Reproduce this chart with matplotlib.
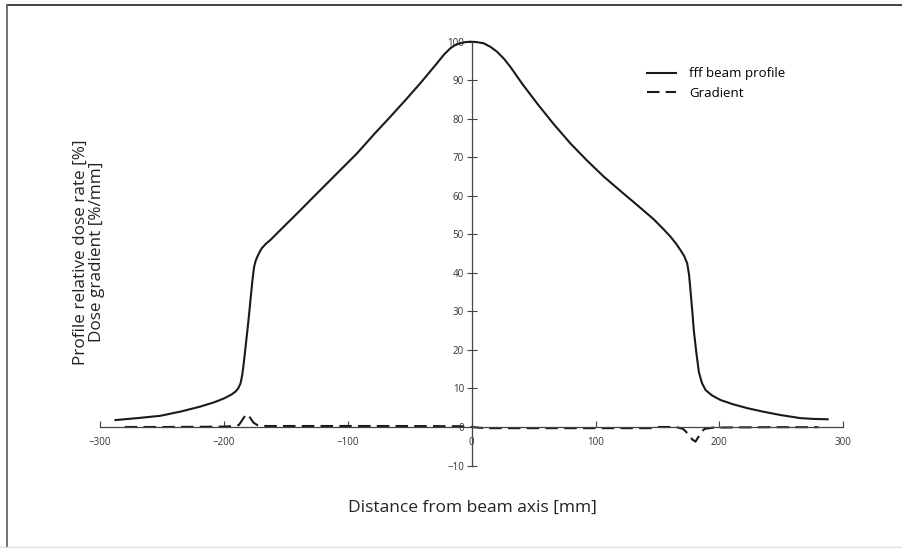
import numpy as np
import matplotlib.pyplot as plt
from matplotlib.lines import Line2D

plt.rcParams['font.family'] = ['Open Sans', 'DejaVu Sans']

# beam profile [%] vs distance [mm]
profile_x = [-287.5, -270, -251.5, -235, -219, -208, -200, -194, -190.6, -188.5, -186.6,
             -185.2, -184, -182.5, -181, -179.6, -178.3, -177, -175.6, -174.3, -173,
             -171.2, -169.4, -166, -162.6, -154.5, -141, -127.4, -110, -92.6, -79,
             -65.7, -53, -41.5, -34.5, -28, -22.5, -17.2, -13, -9.2, -5, -1,
             4, 9.6, 15, 20.5, 26, 31.2, 41, 52.8, 66, 79.7, 93, 106.6, 120,
             133.6, 147, 155, 160.5, 165, 168.6, 171.5, 174, 175.5, 176.6, 178,
             179.3, 181.3, 183.4, 185.8, 188.8, 194, 200.9, 211, 222.4, 235,
             249.4, 265.5, 276, 287.4]
profile_y = [1.8, 2.3, 2.9, 4.0, 5.3, 6.4, 7.4, 8.4, 9.2, 10.0, 11.3,
             13.5, 16.5, 20.8, 25.2, 29.5, 33.8, 38.0, 41.6, 43.2, 44.2,
             45.4, 46.4, 47.6, 48.5, 51.1, 55.4, 59.8, 65.4, 71.0, 75.9,
             80.5, 85.0, 89.2, 91.9, 94.4, 96.6, 98.3, 99.2, 99.6, 99.9, 100.0,
             99.9, 99.6, 98.7, 97.4, 95.6, 93.5, 89.0, 84.0, 78.7, 73.6, 69.2, 65.0, 61.3,
             57.6, 53.9, 51.3, 49.4, 47.6, 45.9, 44.4, 42.5, 39.5, 35.6, 30.5,
             25.2, 19.5, 14.3, 11.5, 9.6, 8.2, 7.0, 5.9, 4.9, 4.0,
             3.1, 2.3, 2.1, 2.0]

# dose gradient [%/mm]
grad_x = [-280, -250, -220, -200, -192, -188, -186, -184, -182.5, -181.4, -180, -178,
          -176, -173, -170.6, -165, -120, -60, -10, 0, 10, 60, 120, 145, 150, 165,
          170.6, 173, 175.5, 178, 180.7, 183, 185.4, 188, 195, 240, 280]
grad_y = [0.0, 0.0, 0.05, 0.1, 0.25, 0.5, 1.4, 2.4, 3.0, 3.3, 3.0, 2.0,
          1.1, 0.5, 0.3, 0.26, 0.26, 0.26, 0.2, 0.0, -0.3, -0.3, -0.3, -0.3, 0.0, 0.0,
          -0.5, -1.2, -2.2, -3.2, -3.8, -2.6, -1.3, -0.5, -0.15, -0.05, -0.05]

fig = plt.figure(figsize=(9.02, 5.48), dpi=100)
ax = fig.add_axes([0.1109, 0.1505, 0.824, 0.7734])

ax.plot(profile_x, profile_y, color='#1a1a1a', lw=1.5, label='fff beam profile',
        clip_on=False, solid_joinstyle='round')
ax.plot(grad_x, grad_y, color='#1a1a1a', lw=1.5, ls=(0, (6, 3)), label='Gradient',
        clip_on=False)

ax.set_xlim(-300, 300)
ax.set_ylim(-10, 100)
ax.spines['left'].set_position(('data', 0))
ax.spines['bottom'].set_position(('data', 0))
ax.spines['top'].set_visible(False)
ax.spines['right'].set_visible(False)
for s in ('left', 'bottom'):
    ax.spines[s].set_color('#444444')
    ax.spines[s].set_linewidth(0.9)

ax.set_xticks(np.arange(-300, 301, 100))
ax.set_yticks(np.arange(-10, 101, 10))
ax.tick_params(axis='x', direction='in', length=4, width=0.8, color='#444444',
               labelsize=7, labelcolor='#333333', pad=7)
ax.tick_params(axis='y', direction='inout', length=7, width=0.8, color='#444444',
               labelsize=7, labelcolor='#333333', pad=2)
ax.patch.set_visible(False)

fig.text(0.5235, 0.073, 'Distance from beam axis [mm]', ha='center', va='center',
         fontsize=12.5, color='#222222')
fig.text(0.099, 0.540, 'Profile relative dose rate [%]\nDose gradient [%/mm]',
         ha='center', va='center', rotation=90, fontsize=12.3, color='#222222',
         linespacing=1.0)

ax.legend(loc='upper left', bbox_to_anchor=(0.72, 0.968), frameon=False,
          fontsize=9.5, handlelength=2.2, handletextpad=1.0, labelspacing=0.5)

# frame: only top and left edges are drawn in the original
fig.lines.append(Line2D([0.0083, 1.0], [0.9909, 0.9909], transform=fig.transFigure,
                        color='#333333', lw=1.3))
fig.lines.append(Line2D([0.0083, 0.0083], [0.0, 0.9909], transform=fig.transFigure,
                        color='#666666', lw=1.3))
fig.lines.append(Line2D([0.0, 1.0], [0.002, 0.002], transform=fig.transFigure,
                        color='#dddddd', lw=1.0))

fig.savefig('out.png', dpi=100)
